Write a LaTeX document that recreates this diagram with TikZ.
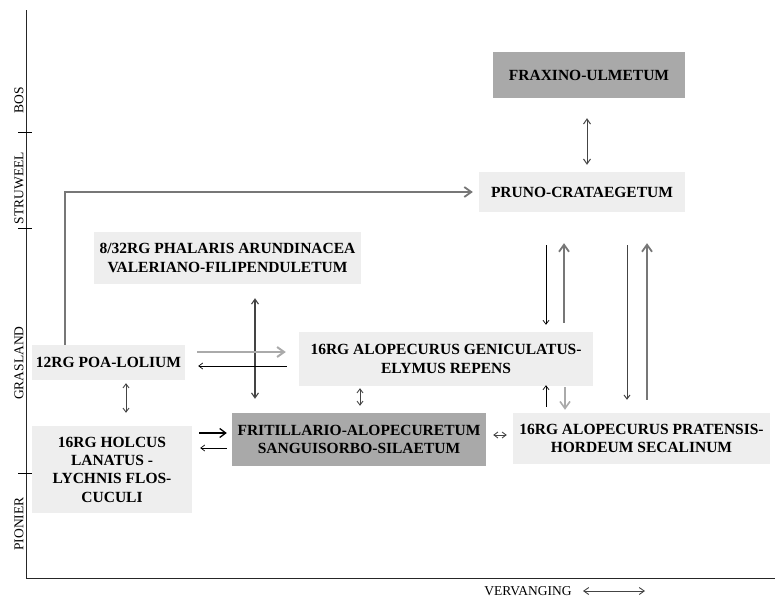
\documentclass[tikz,border=0pt]{standalone}
\usepackage{fontspec}
\setmainfont{Liberation Serif}
\usetikzlibrary{arrows.meta}
\definecolor{boxlight}{HTML}{EEEEEE}
\definecolor{boxdark}{HTML}{A9A9A9}
\definecolor{grayline}{HTML}{777777}
\definecolor{lightline}{HTML}{AAAAAA}
\definecolor{darkline}{HTML}{444444}
\begin{document}
\begin{tikzpicture}[x=1pt,y=-1pt,
  boxl/.style={fill=boxlight,draw=none,inner sep=0pt,align=center,font=\fontsize{15.5}{18.3}\selectfont\bfseries},
  boxd/.style={boxl,fill=boxdark},
  axlabel/.style={rotate=90,font=\fontsize{13.5}{15}\selectfont,inner sep=0pt},
  thinarr/.style={draw=black,line width=0.7pt,-{Straight Barb[length=4pt,width=6pt]}},
  thickblk/.style={draw=black,line width=1.3pt,-{Straight Barb[length=6pt,width=9pt]}},
  grayarr/.style={draw=grayline,line width=1.8pt,-{Straight Barb[length=7pt,width=10pt]}},
  lightarr/.style={draw=lightline,line width=2pt,-{Straight Barb[length=7pt,width=10pt]}},
  dblarr/.style={draw=darkline,line width=1pt,{Straight Barb[length=5pt,width=7pt]}-{Straight Barb[length=5pt,width=7pt]}},
  smalldbl/.style={draw=darkline,line width=0.9pt,{Straight Barb[length=4pt,width=6pt]}-{Straight Barb[length=4pt,width=6pt]}}
]
\useasboundingbox (0,0) rectangle (775,600);

% axes
\draw[line width=0.9pt,black!85] (26,10) -- (26,578) -- (775,578);
\foreach \yy in {132,228,473} \draw[line width=0.8pt] (18,\yy) -- (32,\yy);
\node[axlabel] (lbos) at (19,100) {BOS};
\node[axlabel] (lstr) at (19,188) {STRUWEEL};
\node[axlabel] (lgra) at (19,363) {GRASLAND};
\node[axlabel] (lpio) at (19,524) {PIONIER};
\node[font=\fontsize{13.5}{15}\selectfont,inner sep=0pt] (verv) at (528,591) {VERVANGING};
\coordinate (va) at (583,591);
\coordinate (vb) at (645,591);
\draw[dblarr,line width=0.9pt] (va) -- (vb);

% boxes
\node[boxd,minimum width=192pt,minimum height=46pt] (fraxino) at (589,75) {FRAXINO-ULMETUM};
\node[boxl,minimum width=206pt,minimum height=40pt] (pruno) at (582,192) {PRUNO-CRATAEGETUM};
\node[boxl,minimum width=267pt,minimum height=52pt] (phalaris) at (227.5,258) {8/32RG PHALARIS ARUNDINACEA\\VALERIANO-FILIPENDULETUM};
\node[boxl,minimum width=153pt,minimum height=35pt] (poa) at (108.5,362.5) {12RG POA-LOLIUM};
\node[boxl,minimum width=294pt,minimum height=54pt] (gen) at (446,359) {16RG ALOPECURUS GENICULATUS-\\ELYMUS REPENS};
\node[boxd,minimum width=254pt,minimum height=53pt] (frit) at (359,439.5) {FRITILLARIO-ALOPECURETUM\\SANGUISORBO-SILAETUM};
\node[boxl,minimum width=257pt,minimum height=51pt] (prat) at (641.5,438.5) {16RG ALOPECURUS PRATENSIS-\\HORDEUM SECALINUM};
\node[boxl,minimum width=160pt,minimum height=87pt] (holcus) at (112,469.5) {16RG HOLCUS\\LANATUS -\\LYCHNIS FLOS-\\CUCULI};

% connectors
\draw[dblarr] ([shift={(-2,20)}]fraxino.south) -- ([shift={(5,-7)}]pruno.north);
\draw[grayarr] ([shift={(-43.5,0)}]poa.north) |- ([shift={(-6,0)}]pruno.west);
\draw[dblarr,line width=1.1pt] ([shift={(27.5,14)}]phalaris.south) -- ([shift={(-104,-14)}]frit.north);
\draw[lightarr] ([shift={(12,-10.5)}]poa.east) -- ([shift={(-13,-7)}]gen.west);
\draw[thinarr] ([shift={(-12,7)}]gen.west) -- ([shift={(13,3.5)}]poa.east);
\draw[smalldbl] ([shift={(-86,2)}]gen.south) -- ([shift={(1,-7)}]frit.north);
\draw[smalldbl] ([shift={(7,-4.5)}]frit.east) -- ([shift={(-6,-3.5)}]prat.west);
\draw[thinarr] ([shift={(-36,33)}]pruno.south) -- ([shift={(100,-7)}]gen.north);
\draw[grayarr] ([shift={(118,-9)}]gen.north) -- ([shift={(-18,31)}]pruno.south);
\draw[thinarr,draw=darkline,line width=1pt] ([shift={(45,33)}]pruno.south) -- ([shift={(-14.5,-13)}]prat.north);
\draw[grayarr] ([shift={(5.5,-13)}]prat.north) -- ([shift={(65,31)}]pruno.south);
\draw[thinarr] ([shift={(-95.5,-6)}]prat.north) -- ([shift={(100,-1)}]gen.south);
\draw[lightarr,line width=1.6pt] ([shift={(119,1)}]gen.south) -- ([shift={(-76.5,-3)}]prat.north);
\draw[smalldbl] ([shift={(17.5,3)}]poa.south) -- ([shift={(14,-13)}]holcus.north);
\draw[thickblk] ([shift={(7,-36.5)}]holcus.east) -- ([shift={(-5,-6.5)}]frit.west);
\draw[thinarr] ([shift={(-5,8.5)}]frit.west) -- ([shift={(8,-21.5)}]holcus.east);
\end{tikzpicture}
\end{document}
